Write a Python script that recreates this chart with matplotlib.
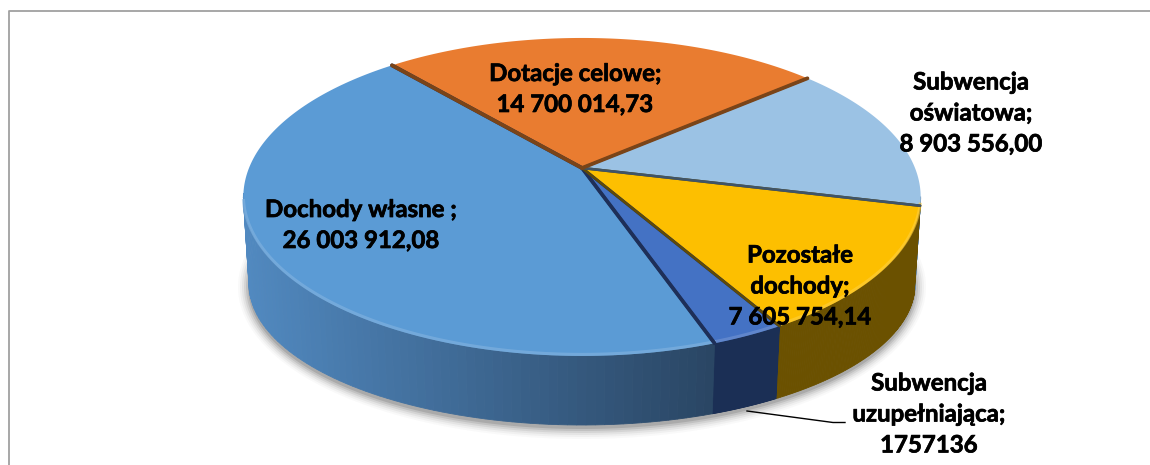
import numpy as np
import matplotlib.pyplot as plt
import matplotlib.colors as mc
import matplotlib.patheffects as pe

#- Data:
slice_names = ['Dotacje celowe', 'Subwencja oświatowa', 'Pozostałe dochody',
               'Subwencja uzupełniająca', 'Dochody własne']
slice_values = [14700014.73, 8903556.00, 7605754.14, 1757136, 26003912.08]
slice_colors = ['#E97C30', '#9BC2E4', '#FDBF00', '#4472C4', '#5B9BD5']
edge_colors = ['#7A4418', '#3F5468', '#5F4A08', '#1E2F58', '#1E2F58']
wall_left = ['#9A5220', '#6A8AA8', '#6B5100', '#1B2F55', '#5189C0']
wall_right = ['#9A5220', '#6A8AA8', '#6B5100', '#1B2F55', '#2A4664']
label_texts = ['Dotacje celowe;\n14 700 014,73',
               'Subwencja\noświatowa;\n8 903 556,00',
               'Pozostałe\ndochody;\n7 605 754,14',
               'Subwencja\nuzupełniająca;\n1757136',
               'Dochody własne ;\n26 003 912,08']
label_x = [575, 971, 800, 929, 361]
label_y = [89, 113, 286, 414, 225]

#- Pie geometry, in pixels:
start_angle = 130.5
cx, cy = 582, 168
A, B, k = 333, 153.7, 0.182
bot_cx, bot_cy, bot_a, bot_b = 582, 284, 333, 141
ell_cx, ell_a = 582, 339

plt.rcParams['font.family'] = ['Lato', 'DejaVu Sans']

def project(theta):
    x, y = np.cos(theta), np.sin(theta)
    w = 1 + k * y
    return cx + A * x / w, cy - B * y / w

def bottom(px):
    X = bot_cx + (px - ell_cx) * bot_a / ell_a
    s = np.clip((X - bot_cx) / bot_a, -1, 1)
    return X, bot_cy + bot_b * np.sqrt(1 - s ** 2)

fig = plt.figure(figsize=(11.5, 4.65), dpi=100)
ax = fig.add_axes([0, 0, 1, 1])
ax.set_xlim(0, 1150)
ax.set_ylim(465, 0)
ax.axis('off')

#- Frame:
ax.plot([8.5, 8.5, 1150], [465, 11.5, 11.5], color='#A0A0A0', lw=1.3, zorder=1)

#- Shadow under the pie:
t = np.linspace(0, 2 * np.pi, 300)
for grow, alpha in zip([11, 9, 7, 5, 3, 1], [0.03, 0.05, 0.07, 0.10, 0.14, 0.2]):
    ax.fill(bot_cx + (bot_a + grow) * np.cos(t), bot_cy + 3 + (bot_b + grow) * np.sin(t),
            color='#505050', alpha=alpha, lw=0, zorder=2)

shares = np.array(slice_values) / np.sum(slice_values)
edges = np.radians(start_angle - 360 * np.concatenate([[0], np.cumsum(shares)]))

#- Side walls, front half only:
for i in range(len(slice_values)):
    th = np.linspace(edges[i], edges[i + 1], 120)
    c0, c1 = np.array(mc.to_rgb(wall_left[i])), np.array(mc.to_rgb(wall_right[i]))
    px0, py0 = project(th)
    bx0, by0 = bottom(px0)
    for j in range(len(th) - 1):
        if np.sin(th[j]) + k > 0 and np.sin(th[j + 1]) + k > 0:
            continue
        f = np.clip((px0[j] - 245) / 470, 0, 1)
        col = c0 + (c1 - c0) * f
        ax.fill([px0[j], px0[j + 1], bx0[j + 1], bx0[j]],
                [py0[j], py0[j + 1], by0[j + 1], by0[j]],
                color=col, lw=0.6, zorder=3)

#- Top faces:
for i in range(len(slice_values)):
    th = np.linspace(edges[i], edges[i + 1], 150)
    px, py = project(th)
    ax.fill(np.r_[cx, px], np.r_[cy, py], color=slice_colors[i], lw=0, zorder=4)

#- Light rim along the front edge:
for i in [2, 3, 4]:
    th = np.linspace(edges[i], edges[i + 1], 150)
    keep = np.sin(th) < -0.2
    px, py = project(th[keep])
    rim = np.array(mc.to_rgb(slice_colors[i])) * 0.75 + 0.25
    ax.plot(px, py - 1.5, color=rim, lw=2.2, alpha=0.6, zorder=5)

#- Separators between the slices:
widths = [3.2, 2.2, 2.2, 2.5, 3.2]
for i in [4, 3, 2, 1, 0]:
    for th in (edges[i], edges[i + 1]):
        if i == 0 or th != edges[0]:
            px, py = project(np.array([th]))
            ax.plot([cx, px[0]], [cy, py[0]], color=edge_colors[i], lw=widths[i] * 0.85,
                    solid_capstyle='round', zorder=6)

#- Leader line of the small slice:
ax.plot([747, 833, 845], [411, 422.5, 422.5], color='black', lw=1, zorder=7)

#- Labels:
for i in range(len(label_texts)):
    ax.text(label_x[i], label_y[i], label_texts[i], ha='center', va='center',
            fontsize=17.3, fontweight='bold', color='black', linespacing=1.42, zorder=8,
            path_effects=[pe.withStroke(linewidth=0.5, foreground='black')])

plt.savefig('out.png', dpi=100)
